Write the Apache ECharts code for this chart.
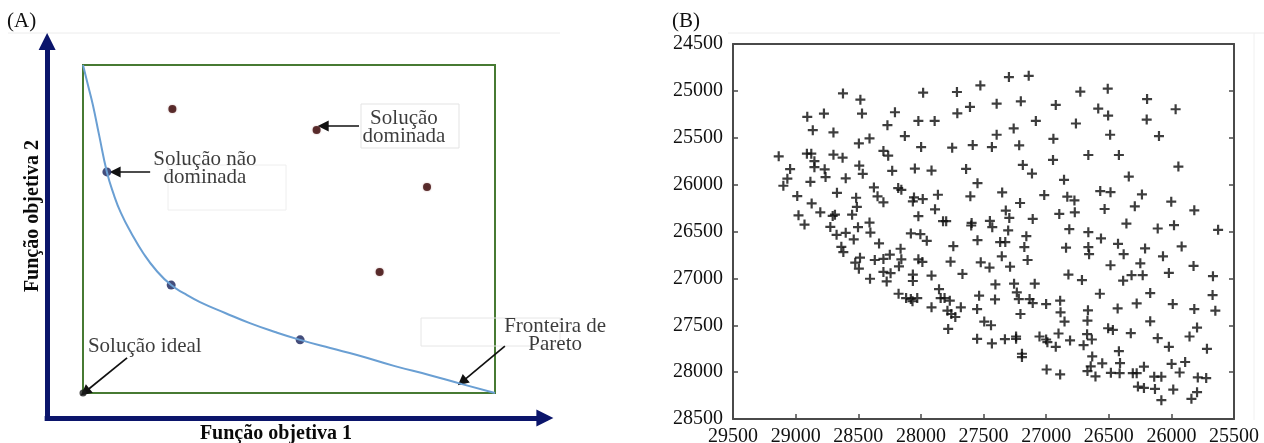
<!DOCTYPE html>
<html>
<head>
<meta charset="utf-8">
<script src="https://cdn.jsdelivr.net/npm/echarts@6/dist/echarts.min.js"></script>
<style>
html,body{margin:0;padding:0;background:#fff;}
#chart{width:1264px;height:443px;}
</style>
</head>
<body>
<div id="chart"></div>
<script>
// ---------- Panel A (schematic, arbitrary units: box is 0..10 on both objectives) ----------
const paretoF1 = [0, 0.12, 0.24, 0.39, 0.58, 0.75, 0.92, 1.17, 1.46, 1.77, 2.14, 2.48, 2.84, 3.45, 4.05, 4.66, 5.27, 6.00, 6.65, 7.57, 8.40, 9.20, 10];
const paretoF2 = [10, 9.39, 8.78, 7.87, 6.74, 6.04, 5.49, 4.88, 4.27, 3.75, 3.29, 3.02, 2.77, 2.44, 2.13, 1.86, 1.62, 1.37, 1.16, 0.82, 0.55, 0.27, 0];
const nonDominatedF1 = [0.58, 2.14, 5.27];
const nonDominatedF2 = [6.74, 3.29, 1.62];
const dominatedF1 = [2.17, 5.67, 8.35, 7.20];
const dominatedF2 = [8.66, 8.02, 6.28, 3.69];
const idealPoint = [0, 0];
const labelsA = ['Solução não\ndominada', 'Solução\ndominada', 'Solução ideal', 'Fronteira de\nPareto'];
const labelF1 = [2.96, 7.79, 1.50, 11.46];
const labelF2 = [6.86, 8.08, 1.43, 1.74];
// annotation arrows: [fromF1, fromF2, toF1, toF2]
const arrowsA = [
  [1.63, 6.74, 0.78, 6.74],
  [6.70, 8.14, 5.83, 8.14],
  [1.07, 1.07, 0.05, 0.03],
  [10.24, 1.43, 9.20, 0.34]
];
const axisArrowsA = [
  [-0.87, -0.76, -0.87, 10.72],
  [-0.87, -0.76, 11.21, -0.76]
];
const axisTitleA1 = 'Função objetiva 1';
const axisTitleA2 = 'Função objetiva 2';

// ---------- Panel B (objective values) ----------
const ticksB = [25500, 26000, 26500, 27000, 27500, 28000, 28500, 29000, 29500];
const objB1 = [
27139,27297,27525,27982,27712,26727,26508,28622,28483,26194,27202,27395,26923,27608,26584,25966,
28774,28470,28207,27709,28907,26505,26197,28020,27890,27082,26762,28267,27259,28863,28698,28128,
27395,26489,26099,28410,26942,28495,27998,27750,27586,27433,27215,28910,28875,28698,28299,28261,
28625,29135,26663,26419,26945,28850,28850,28492,28048,27915,27186,25944,29044,28768,28229,27639,
28464,27113,26340,28761,28600,29066,28882,27548,26857,29098,28375,28181,28156,26568,26486,28670,
27351,26235,27015,28346,27864,28987,28055,27985,27605,26831,26774,26001,28517,28064,28872,28299,
27208,26533,26292,25817,28511,27887,27322,26771,28803,28704,28020,28977,28549,27294,26895,27107,
27823,27798,27595,27449,28410,26359,28929,27598,28723,28502,27430,26815,25979,26109,25627,28403,
28080,27303,26663,28004,28673,27158,28536,27548,26562,27367,27326,28334,27953,26426,28635,27174,
26663,26841,27741,28162,26210,25918,28619,28248,26657,26381,27354,26067,28368,28486,28299,28156,
28020,27148,27988,27763,28524,27522,26248,26486,25823,27288,27452,28495,28175,28299,28242,26822,
28064,26318,26229,26020,25668,28406,27915,27668,28273,28064,26714,26385,27405,27256,27091,27855,
28178,27234,26571,26169,25671,27535,28118,28080,28029,27842,27811,27408,27218,27132,26888,28067,
27769,27107,27000,26429,26277,25989,25817,25649,27915,27681,27551,26885,27788,27757,27725,27205,
26666,26853,26670,26169,27494,27440,26324,25795,27782,26505,26467,26901,26673,27053,27000,26990,
26109,25855,27240,27240,27551,27329,26635,26809,27433,26701,26923,26020,25716,26419,26632,27193,
27193,25890,26552,26410,25998,26644,26219,26996,26670,26483,26413,26308,26277,26606,26888,26137,
26080,25934,25789,25722,26267,26219,26131,25985,25795,26080,25840,28600,28686
];
const objB2 = [
24839,24853,24942,25019,25012,25009,24977,25027,25094,25087,25111,25136,25150,25171,25189,25196,
25242,25242,25228,25239,25277,25263,25306,25320,25320,25320,25348,25366,25401,25419,25443,25482,
25468,25468,25482,25507,25511,25560,25599,25606,25578,25599,25581,25670,25670,25680,25641,25691,
25712,25698,25684,25684,25737,25750,25814,25797,25829,25850,25790,25807,25834,25837,25853,25832,
25885,25882,25914,25919,25933,25937,25970,25984,25949,26012,26030,26037,26055,26069,26080,26087,
26083,26104,26111,26125,26108,26122,26136,26154,26125,26129,26168,26182,26140,26179,26200,26189,
26196,26260,26231,26274,26238,26263,26277,26295,26295,26334,26337,26327,26320,26355,26313,26366,
26390,26390,26408,26387,26405,26415,26426,26436,26451,26454,26454,26475,26433,26468,26482,26511,
26521,26489,26507,26528,26535,26550,26585,26592,26574,26613,26613,26627,26599,26631,26663,26666,
26666,26673,26656,26684,26680,26659,26719,26747,26742,26742,26765,26765,26804,26779,26793,26797,
26797,26804,26825,26822,26832,26829,26839,26860,26867,26875,26885,26896,26871,26931,26945,26959,
26959,26966,26966,26942,26977,27004,26970,26952,27032,27028,27018,27025,27064,27057,27057,27115,
27164,27150,27164,27157,27178,27185,27210,27221,27210,27210,27210,27224,27221,27221,27238,27244,
27238,27263,27274,27320,27267,27274,27327,27345,27309,27309,27327,27362,27345,27380,27412,27380,
27341,27461,27451,27458,27461,27500,27585,27525,27539,27532,27550,27588,27595,27620,27652,27680,
27638,27620,27620,27645,27645,27648,27652,27662,27694,27712,27730,27730,27751,27776,27832,27804,
27839,27892,27906,27903,27913,27938,27942,27972,27989,28007,28011,28011,28011,28046,28025,28049,
28049,28004,28056,28063,28154,28168,28179,28186,28214,28299,28285,26514,26320
];

const SERIF = '"Liberation Serif", "DejaVu Serif", serif';
const zip = (a, b) => a.map((v, i) => [v, b[i]]);

const chart = echarts.init(document.getElementById('chart'), null, {renderer: 'canvas'});

const axisColB = '#4a4a4a';
const option = {
  backgroundColor: '#ffffff',
  animation: false,
  grid: [
    {left: 83, top: 65, width: 412, height: 328, show: true, borderColor: '#477a33', borderWidth: 2,
     backgroundColor: 'transparent', outerBoundsMode: 'none', containLabel: false},
    {left: 733, top: 44, width: 501, height: 375, outerBoundsMode: 'none', containLabel: false}
  ],
  xAxis: [
    {gridIndex: 0, type: 'value', min: 0, max: 10, show: false},
    {gridIndex: 1, type: 'value', min: 25500, max: 29500, interval: 500, inverse: true,
     axisLine: {show: true, onZero: false, lineStyle: {color: axisColB, width: 2}},
     axisTick: {show: true, inside: true, length: 5, lineStyle: {color: axisColB, width: 1.5}},
     axisLabel: {show: true, margin: 8, color: '#111', fontFamily: SERIF, fontSize: 20,
       formatter: v => ticksB.indexOf(v) >= 0 ? String(v) : ''},
     splitLine: {show: false}},
    {gridIndex: 1, type: 'value', min: 25500, max: 29500, interval: 500, inverse: true, position: 'top',
     axisLine: {show: true, onZero: false, lineStyle: {color: axisColB, width: 2}},
     axisTick: {show: false}, axisLabel: {show: false}, splitLine: {show: false}}
  ],
  yAxis: [
    {gridIndex: 0, type: 'value', min: 0, max: 10, show: false},
    {gridIndex: 1, type: 'value', min: 24500, max: 28500, interval: 500, inverse: true,
     axisLine: {show: true, onZero: false, lineStyle: {color: axisColB, width: 2}},
     axisTick: {show: true, inside: true, length: 5, lineStyle: {color: axisColB, width: 1.5}},
     axisLabel: {show: true, margin: 10, color: '#111', fontFamily: SERIF, fontSize: 20,
       formatter: v => String(v)},
     splitLine: {show: false}},
    {gridIndex: 1, type: 'value', min: 24500, max: 28500, interval: 500, inverse: true, position: 'right',
     axisLine: {show: true, onZero: false, lineStyle: {color: axisColB, width: 2}},
     axisTick: {show: true, inside: true, length: 5, lineStyle: {color: axisColB, width: 1.5}},
     axisLabel: {show: false}, splitLine: {show: false}}
  ],
  series: [
    // Panel A: navy objective axes with arrowheads
    {type: 'lines', coordinateSystem: 'cartesian2d', xAxisIndex: 0, yAxisIndex: 0, clip: false,
     symbol: ['none', 'triangle'], symbolSize: [18, 17],
     lineStyle: {color: '#0b156b', width: 5, opacity: 1, cap: 'square'},
     data: axisArrowsA.map(a => ({coords: [[a[0], a[1]], [a[2], a[3]]]}))},
    // Pareto front
    {type: 'line', xAxisIndex: 0, yAxisIndex: 0, clip: false, smooth: 0.5, showSymbol: false,
     lineStyle: {color: '#6a9fd3', width: 2}, data: zip(paretoF1, paretoF2)},
    // non-dominated solutions
    {type: 'scatter', xAxisIndex: 0, yAxisIndex: 0, clip: false, symbolSize: 9,
     itemStyle: {color: '#15215a'}, data: zip(nonDominatedF1, nonDominatedF2)},
    // ideal solution
    {type: 'scatter', xAxisIndex: 0, yAxisIndex: 0, clip: false, symbolSize: 7,
     itemStyle: {color: '#1a1a1a'}, data: [idealPoint]},
    // dominated solutions
    {type: 'scatter', xAxisIndex: 0, yAxisIndex: 0, clip: false, symbolSize: 8,
     itemStyle: {color: '#3a0808', shadowBlur: 2, shadowColor: 'rgba(120,40,40,0.45)'},
     data: zip(dominatedF1, dominatedF2)},
    // annotation arrows
    {type: 'lines', coordinateSystem: 'cartesian2d', xAxisIndex: 0, yAxisIndex: 0, clip: false,
     symbol: ['none', 'triangle'], symbolSize: [9, 11],
     lineStyle: {color: '#111', width: 1.7, opacity: 1},
     data: arrowsA.map(a => ({coords: [[a[0], a[1]], [a[2], a[3]]]}))},
    // annotation labels
    {type: 'scatter', xAxisIndex: 0, yAxisIndex: 0, clip: false, symbolSize: 1,
     itemStyle: {color: 'rgba(0,0,0,0)'}, silent: true,
     label: {show: true, position: 'inside', formatter: p => p.name, color: '#0a0a0a',
       fontFamily: SERIF, fontSize: 21, lineHeight: 18, align: 'center', verticalAlign: 'middle'},
     data: labelsA.map((n, i) => ({name: n, value: [labelF1[i], labelF2[i]]}))},
    // Panel B points
    {type: 'scatter', xAxisIndex: 1, yAxisIndex: 1,
     symbol: 'path://M3.9,0H6.1V3.9H10V6.1H6.1V10H3.9V6.1H0V3.9H3.9Z', symbolSize: 10,
     itemStyle: {color: '#0d0d0d'}, data: zip(objB1, objB2)}
  ],
  graphic: [
    {type: 'line', shape: {x1: 8, y1: 33, x2: 560, y2: 33}, style: {stroke: '#ececec', lineWidth: 1}, silent: true},
    {type: 'line', shape: {x1: 728, y1: 33, x2: 1264, y2: 33}, style: {stroke: '#ececec', lineWidth: 1}, silent: true},
    {type: 'line', shape: {x1: 1254, y1: 33, x2: 1254, y2: 420}, style: {stroke: '#f0f0f0', lineWidth: 1}, silent: true},
    {type: 'rect', shape: {x: 361, y: 104, width: 98, height: 44}, style: {fill: 'none', stroke: '#e3e3e3', lineWidth: 1}, silent: true},
    {type: 'rect', shape: {x: 168, y: 165, width: 118, height: 45}, style: {fill: 'none', stroke: '#eeeeee', lineWidth: 1}, silent: true},
    {type: 'rect', shape: {x: 421, y: 318, width: 139, height: 28}, style: {fill: 'none', stroke: '#e6e6e6', lineWidth: 1}, silent: true},
    {type: 'text', left: 7, top: 11, style: {text: '(A)', font: '21px ' + SERIF, fill: '#111'}},
    {type: 'text', left: 672, top: 11, style: {text: '(B)', font: '21px ' + SERIF, fill: '#111'}},
    {type: 'text', x: 276, y: 434, style: {text: axisTitleA1, font: 'bold 20px ' + SERIF, fill: '#0a0a0a', align: 'center', verticalAlign: 'middle'}},
    {type: 'text', x: 33, y: 216, rotation: Math.PI / 2, style: {text: axisTitleA2, font: 'bold 20px ' + SERIF, fill: '#0a0a0a', align: 'center', verticalAlign: 'middle'}}
  ]
};
chart.setOption(option);
</script>
</body>
</html>
